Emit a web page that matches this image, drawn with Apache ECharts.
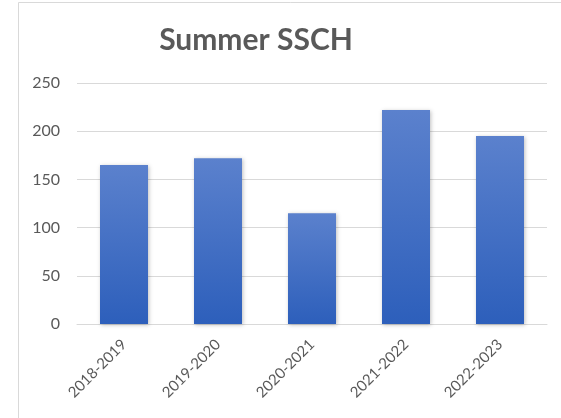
<!DOCTYPE html>
<html><head><meta charset="utf-8">
<script src="https://cdn.jsdelivr.net/npm/echarts@6/dist/echarts.min.js"></script>
<style>html,body{margin:0;padding:0;background:#fff}#c{width:561px;height:418px}</style>
</head><body><div id="c"></div>
<script>
const categories = ['2018-2019','2019-2020','2020-2021','2021-2022','2022-2023'];
const values = [165, 172, 115, 222, 195];
const yTicks = [0, 50, 100, 150, 200, 250];
const titleText = 'Summer SSCH';

const chart = echarts.init(document.getElementById('c'));
chart.setOption({
  animation: false,
  backgroundColor: '#fff',
  graphic: [{type:'rect', shape:{x:18.5,y:2.5,width:600,height:500}, style:{fill:'none', stroke:'#d9d9d9', lineWidth:1}, silent:true, z:-10}],
  title: {text: titleText, left: 251, top: 20, textAlign: 'center',
    textStyle:{fontFamily:'Lato', fontWeight:'bold', fontSize:30, color:'#595959'}},
  grid: {left: 77, right: 14, top: 83, bottom: 94, containLabel:false},
  xAxis: {type:'category', data: categories,
    axisLine:{lineStyle:{color:'#d9d9d9', width:1}}, axisTick:{show:false},
    axisLabel:{rotate:45, color:'#595959', fontSize:15, fontFamily:'Lato', margin:18, interval:0}},
  yAxis: {type:'value', min: yTicks[0], max: yTicks[yTicks.length-1], interval: 50,
    axisLine:{show:false}, axisTick:{show:false},
    splitLine:{lineStyle:{color:'#d9d9d9', width:1}},
    axisLabel:{color:'#595959', fontSize:16, fontFamily:'Lato', margin:17}},
  series: [{type:'bar', data: values, barWidth: 48,
    itemStyle:{color: new echarts.graphic.LinearGradient(0,0,0,1,[{offset:0,color:'#5b81cd'},{offset:1,color:'#2d5fbb'}]),
      shadowColor:'rgba(0,0,0,0.25)', shadowBlur:4, shadowOffsetX:1, shadowOffsetY:1}}]
});
</script></body></html>
